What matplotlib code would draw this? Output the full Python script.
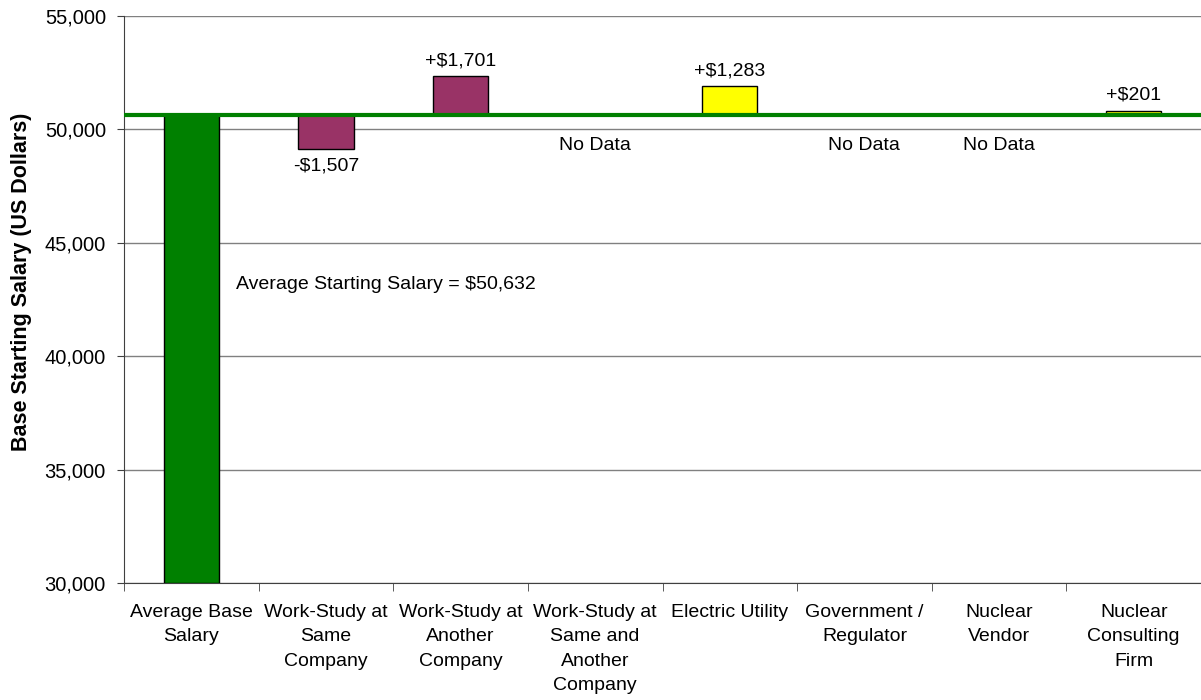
import numpy as np
import matplotlib
matplotlib.use("Agg")
import matplotlib.pyplot as plt

plt.rcParams['font.family'] = ['Liberation Sans', 'DejaVu Sans']

categories = ["Average Base\nSalary", "Work-Study at\nSame\nCompany", "Work-Study at\nAnother\nCompany",
              "Work-Study at\nSame and\nAnother\nCompany", "Electric Utility", "Government /\nRegulator",
              "Nuclear\nVendor", "Nuclear\nConsulting\nFirm"]
average = 50632
diffs = [None, -1507, 1701, None, 1283, None, None, 201]   # None -> No Data
bar_colors = [None, "#993366", "#993366", None, "#FFFF00", None, None, "#FFFF00"]

FS = 14
fig = plt.figure(figsize=(12.01, 7.0), dpi=100)
ax = fig.add_axes([124/1201, 1-583/700, 1-124/1201, (583-16)/700])
ymin, ymax = 30000, 55000
x = np.arange(len(categories))
w = 0.41

ax.bar(0, average-ymin, bottom=ymin, width=w, color="#008000", edgecolor="black", lw=1, zorder=3)
for i, d in enumerate(diffs):
    if i == 0:
        continue
    if d is None:
        ax.text(i, 49300, "No Data", ha="center", va="center", fontsize=FS)
        continue
    ax.bar(i, d, bottom=average, width=w, color=bar_colors[i], edgecolor="black", lw=1, zorder=3)
    lab = f"+${d:,}" if d > 0 else f"-${-d:,}"
    top = average + d
    ax.annotate(lab, (i, top), xytext=(0, 5 if d > 0 else -6), textcoords="offset points",
                ha="center", va="bottom" if d > 0 else "top", fontsize=FS)

ax.axhline(average, color="#008000", lw=3, zorder=4)
ax.text(0.33, 43183, f"Average Starting Salary = ${average:,}", ha="left", va="center", fontsize=FS)

ax.set_xlim(-0.5, len(categories)-0.5)
ax.set_ylim(ymin, ymax)
ax.set_yticks(np.arange(30000, 55001, 5000))
ax.set_yticklabels([f"{v:,}" for v in range(30000, 55001, 5000)], fontsize=14.5)
ax.yaxis.grid(True, color="#808080", lw=1)
ax.set_axisbelow(True)
ax.set_xticks(x)
ax.set_xticklabels(categories, fontsize=FS, va="top", linespacing=1.58)
ax.tick_params(axis="x", which="major", length=0, pad=15)
ax.set_xticks(np.arange(-0.5, len(categories), 1), minor=True)
ax.tick_params(axis="x", which="minor", length=6, direction="out", color="#404040")
ax.tick_params(axis="y", length=5, direction="out", color="#404040", pad=8)
for s in ["top", "right"]:
    ax.spines[s].set_visible(False)
for s in ["left", "bottom"]:
    ax.spines[s].set_color("#404040")
ax.set_ylabel("Base Starting Salary (US Dollars)", fontsize=15.5, fontweight="bold")
ax.yaxis.label.set_verticalalignment("center")
ax.yaxis.set_label_coords(-0.0955, 0.531)

fig.savefig("out.png", dpi=100)
